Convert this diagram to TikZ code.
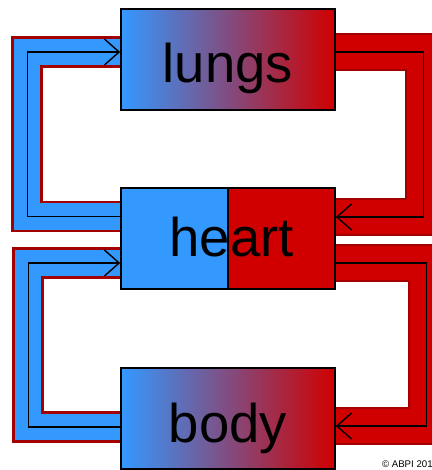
\documentclass[tikz,border=0pt]{standalone}
\usepackage{fontspec}
\setmainfont{Liberation Sans}
\usepackage{tikz}
\usetikzlibrary{calc}
\usetikzlibrary{arrows.meta}
\usetikzlibrary{backgrounds}
\definecolor{organblue}{RGB}{51,153,255}
\definecolor{organred}{RGB}{208,0,0}
\definecolor{pipeedge}{RGB}{165,0,0}
\tikzset{>={Straight Barb[length=8.5pt, width=15pt]}}
\tikzstyle{organ} = [draw = black, line width = 0.9pt, minimum width = 4.28cm, minimum height = 2.02cm, inner sep = 0, text depth = 0pt, font = \fontsize{31}{36}\selectfont]
\tikzstyle{bluepipe} = [line join = miter, preaction = {draw = pipeedge, line width = 18pt, -}, preaction = {draw = organblue, line width = 15pt, -}, draw = black, line width = 0.8pt, ->]
\tikzstyle{redpipe} = [line join = miter, preaction = {draw = pipeedge, line width = 21.5pt, -}, preaction = {draw = organred, line width = 19pt, -}, draw = black, line width = 0.8pt, ->]

\begin{document}
\begin{tikzpicture}[x = 0.02cm, y = -0.02cm]
\useasboundingbox (0, 0) rectangle (432, 470);
\node [organ, text height = 26.6pt, left color = organblue, right color = organred] (lungs) at (228, 59.5) {lungs};
\node [organ, text height = 21pt, fill = organblue, path picture = {\fill [organred] (path picture bounding box.north) rectangle (path picture bounding box.south east); \draw [black, line width = 0.6pt] (path picture bounding box.north) -- (path picture bounding box.south);}] (heart) at (228, 238.5) {\hspace{4pt}heart};
\node [organ, text height = 27.8pt, left color = organblue, right color = organred] (body) at (228, 418.5) {body};
\node [anchor = base east, inner sep = 0, font = \fontsize{5.5}{6}\selectfont] (copy) at (433, 467) {© ABPI 201};
\begin{scope}[on background layer]
% lung circuit
\draw [bluepipe] ($(heart.west) + (0, -22)$) -- ++(-93, 0) |- ($(lungs.west) + (0, -7.5)$);
\draw [redpipe] ($(lungs.east) + (0, -7.5)$) -- ++(88, 0) |- ($(heart.east) + (0, -21.5)$);
% body circuit
\draw [bluepipe] ($(body.west) + (0, 8.5)$) -- ++(-92, 0) |- ($(heart.west) + (0, 24.5)$);
\draw [redpipe] ($(heart.east) + (0, 24.5)$) -- ++(91, 0) |- ($(body.east) + (0, 7.5)$);
\end{scope}
\end{tikzpicture}
\end{document}
